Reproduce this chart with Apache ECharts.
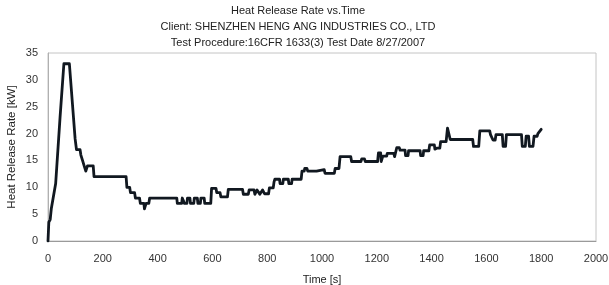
<!DOCTYPE html>
<head>
    <meta charset="utf-8"/>
    <style>
        html,body { height:100%; width:100%; margin:0; padding:0; background:#fff; }
    </style>
</head>
<body>

<div id="hrr" style="width:609px;height:285px;"></div>

<script src="https://cdn.jsdelivr.net/npm/echarts@6/dist/echarts.min.js"></script>
<script type="text/javascript">

// chart titles
var titleLines = [
    'Heat Release Rate vs.Time',
    'Client: SHENZHEN HENG ANG INDUSTRIES CO., LTD',
    'Test Procedure:16CFR 1633(3) Test Date 8/27/2007'
];

// axis ticks
var xTicks = [0, 200, 400, 600, 800, 1000, 1200, 1400, 1600, 1800, 2000];
var yTicks = [0, 5, 10, 15, 20, 25, 30, 35];

// time [s] and heat release rate [kW]
var times = [
    0, 3, 8, 12, 28, 44, 58, 78, 99, 104, 117, 120, 123, 126, 129, 132, 135, 138, 142, 144, 165, 168,
    285, 288, 298, 301, 316, 319, 334, 337, 350, 352, 356, 358, 368, 371,
    470, 472, 488, 490, 496, 498, 507, 509, 518, 520, 532, 534, 545, 547, 556, 558, 570, 572, 594, 597,
    613, 616, 628, 631, 655, 658, 710, 713, 731, 734, 752, 755, 760, 763, 770, 773, 780, 783, 788, 790,
    805, 808, 822, 825, 828, 845, 847, 857, 859, 877, 879, 889, 891, 924, 927, 935, 937, 945, 948,
    980, 983, 1008, 1011, 1045, 1048, 1062, 1066, 1105, 1108, 1142, 1145, 1155, 1158, 1203, 1206,
    1214, 1216, 1220, 1222, 1236, 1238, 1262, 1265, 1270, 1273, 1282, 1285, 1303, 1305, 1314, 1316,
    1358, 1360, 1369, 1371, 1390, 1393, 1410, 1412, 1418, 1420, 1430, 1433, 1453, 1458, 1464, 1468,
    1550, 1553, 1572, 1576, 1612, 1615, 1622, 1624, 1632, 1635, 1658, 1661, 1670, 1673,
    1728, 1731, 1742, 1745, 1754, 1757, 1770, 1774, 1785, 1788, 1795, 1800
];
var hrr = [
    0, 3.5, 4, 6, 10.7, 23, 33, 33, 19, 17, 17, 16, 16, 15, 15, 14, 14, 13, 13, 14, 14, 12,
    12, 10, 10, 9, 9, 8, 8, 7, 7, 6, 6, 7, 7, 8,
    8, 7, 7, 8, 8, 7, 7, 8, 8, 7, 7, 8, 8, 7, 7, 8, 8, 7, 7, 9.8,
    9.8, 9, 9, 8.2, 8.2, 9.6, 9.6, 8.7, 8.7, 9.5, 9.5, 8.7, 8.7, 9.5, 9.5, 8.7, 8.7, 9.5, 9.5, 8.8,
    8.8, 9.9, 9.9, 11, 11.5, 11.5, 10.7, 10.7, 11.5, 11.5, 10.7, 10.7, 11.5, 11.5, 13, 13, 13.5, 13.5, 13,
    13, 13.3, 13.3, 12.6, 12.6, 13.5, 13.5, 15.7, 15.7, 14.8, 14.8, 15.3, 15.3, 14.8, 14.8, 16.4,
    16.4, 14.8, 14.8, 15.8, 15.8, 16.3, 16.3, 15.7, 15.7, 17.4, 17.4, 16.9, 16.9, 15.9, 15.9, 16.8,
    16.8, 15.9, 15.9, 16.8, 16.8, 17.9, 17.9, 17.1, 17.1, 17.3, 17.3, 18.5, 18.5, 21, 21, 18.9,
    18.9, 17.6, 17.6, 20.5, 20.5, 19.8, 19.8, 18.8, 18.8, 19.8, 19.8, 17.6, 17.6, 19.8,
    19.8, 17.6, 17.6, 19.5, 19.5, 17.6, 17.6, 19.5, 19.5, 20, 20, 20.8
];

var points = [];
for (var i = 0; i < times.length; i++) {
    points.push([times[i], hrr[i]]);
}

var myChart = echarts.init(document.getElementById('hrr'), null, {renderer: 'canvas'});

var titleTops = [5, 21, 37];
var titles = [];
for (var k = 0; k < titleLines.length; k++) {
    titles.push({
        text: titleLines[k],
        left: 298,
        textAlign: 'center',
        top: titleTops[k],
        padding: 0,
        textStyle: {fontFamily: 'Liberation Sans', fontSize: 11, fontWeight: 'normal', color: '#222'}
    });
}

var option = {
    animation: false,
    backgroundColor: '#fff',
    title: titles,
    grid: {
        left: 48,
        right: 13,
        top: 53,
        bottom: 44,
        outerBoundsMode: 'none',
        containLabel: false,
        show: true,
        borderColor: '#c4c4c4',
        borderWidth: 1
    },
    xAxis: {
        type: 'value',
        min: xTicks[0],
        max: xTicks[xTicks.length - 1],
        interval: 200,
        name: 'Time [s]',
        nameLocation: 'middle',
        nameGap: 33,
        nameMoveOverlap: false,
        nameTextStyle: {fontFamily: 'Liberation Sans', fontSize: 11, color: '#222'},
        axisLine: {show: true, lineStyle: {color: '#9a9a9a'}},
        axisTick: {show: false},
        splitLine: {show: false},
        axisLabel: {
            fontFamily: 'Liberation Sans', fontSize: 11, color: '#333', margin: 12,
            formatter: function (v) { return String(v); }
        }
    },
    yAxis: {
        type: 'value',
        min: yTicks[0],
        max: yTicks[yTicks.length - 1],
        interval: 5,
        name: 'Heat Release Rate [kW]',
        nameLocation: 'middle',
        nameGap: 30,
        nameMoveOverlap: false,
        nameTextStyle: {fontFamily: 'Liberation Sans', fontSize: 11.5, color: '#222'},
        axisLine: {show: true, lineStyle: {color: '#b0b0b0'}},
        axisTick: {show: false},
        splitLine: {show: false},
        axisLabel: {fontFamily: 'Liberation Sans', fontSize: 11, color: '#333', margin: 10}
    },
    series: [
        {
            name: 'HRR',
            type: 'line',
            data: points,
            showSymbol: false,
            symbol: 'none',
            lineStyle: {color: '#111820', width: 2.8, join: 'round', cap: 'round'},
            z: 3
        }
    ]
};

myChart.setOption(option);

</script>
</body>
